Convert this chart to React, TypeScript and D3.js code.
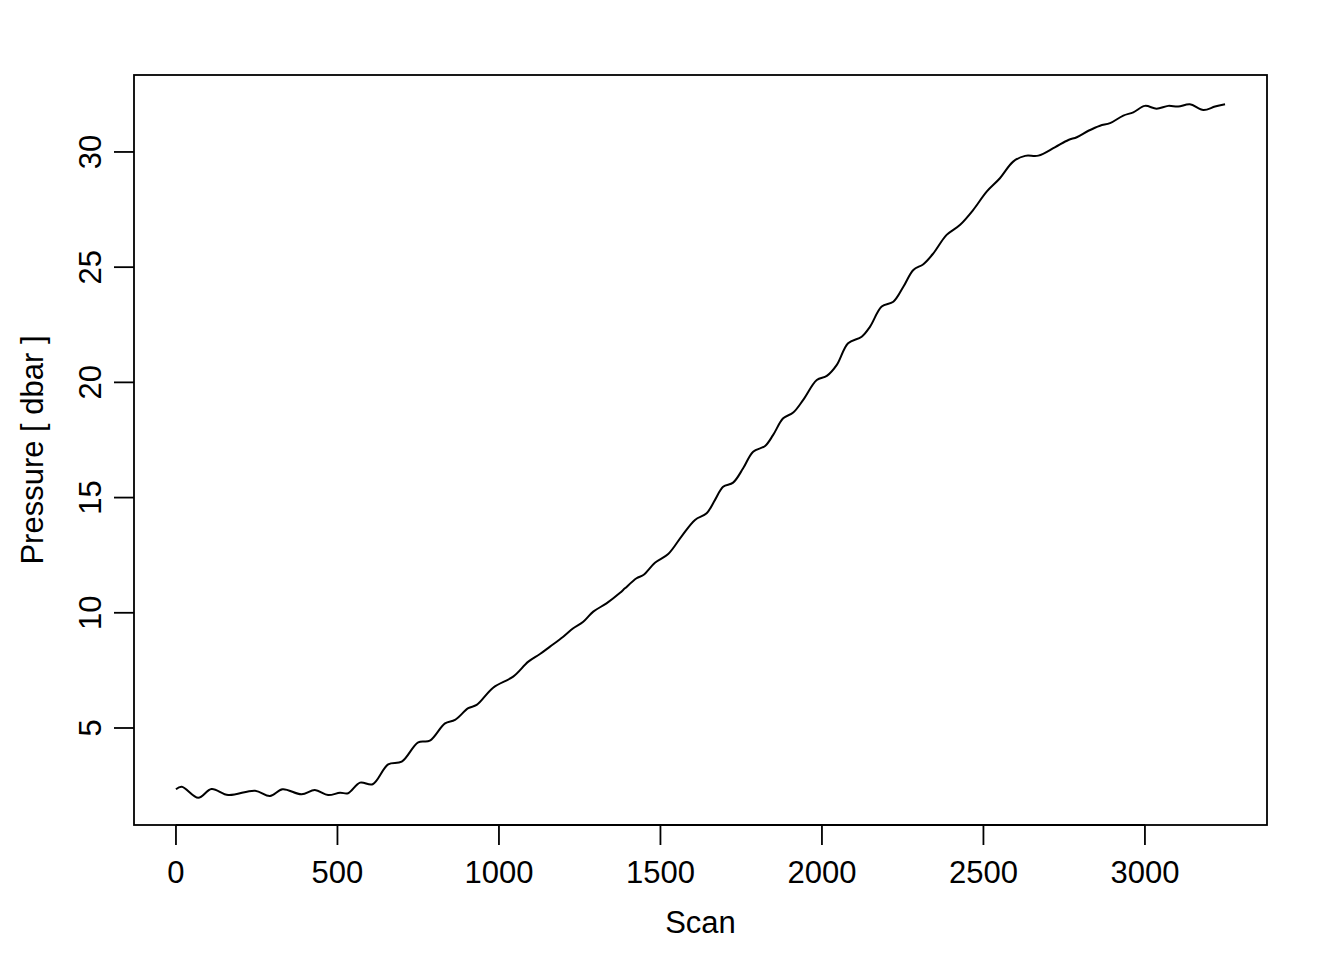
import React from "react";
import * as d3 from "d3";

const scan = [0, 18, 69, 110, 162, 245, 291, 330, 389, 430, 471, 508, 533, 570, 609, 657, 699, 750, 786, 833, 864, 905, 931, 982, 1044, 1091, 1127, 1158, 1199, 1230, 1261, 1292, 1333, 1375, 1390, 1426, 1447, 1483, 1524, 1566, 1607, 1643, 1669, 1694, 1725, 1756, 1787, 1824, 1849, 1880, 1911, 1942, 1984, 2015, 2046, 2081, 2123, 2149, 2185, 2221, 2252, 2283, 2314, 2345, 2386, 2427, 2468, 2510, 2551, 2592, 2629, 2670, 2721, 2763, 2789, 2825, 2861, 2892, 2933, 2964, 3000, 3036, 3072, 3103, 3139, 3181, 3217, 3248];
const pressure = [2.34, 2.45, 1.97, 2.35, 2.09, 2.28, 2.05, 2.34, 2.12, 2.31, 2.09, 2.19, 2.17, 2.63, 2.56, 3.42, 3.54, 4.38, 4.45, 5.2, 5.35, 5.86, 6.0, 6.75, 7.23, 7.88, 8.21, 8.53, 8.96, 9.33, 9.61, 10.05, 10.41, 10.87, 11.06, 11.5, 11.64, 12.17, 12.55, 13.33, 14.03, 14.32, 14.9, 15.47, 15.65, 16.27, 16.99, 17.24, 17.72, 18.44, 18.69, 19.24, 20.1, 20.28, 20.76, 21.7, 21.98, 22.42, 23.29, 23.5, 24.15, 24.88, 25.13, 25.6, 26.4, 26.83, 27.48, 28.28, 28.86, 29.58, 29.83, 29.84, 30.2, 30.52, 30.64, 30.92, 31.14, 31.25, 31.58, 31.72, 32.0, 31.88, 32.0, 31.97, 32.07, 31.82, 31.97, 32.07];

const xTicks = [0, 500, 1000, 1500, 2000, 2500, 3000];
const yTicks = [5, 10, 15, 20, 25, 30];
const xLabel = "Scan";
const yLabel = "Pressure [ dbar ]";

const W = 1344;
const H = 960;
const left = 134, right = 1267, top = 75, bottom = 825;
const FONT = "'Liberation Sans', Arial, Helvetica, sans-serif";
const FS = 31;

export default function App() {
  const xs = d3.extent(scan) as [number, number];
  const xp = (xs[1] - xs[0]) * 0.04;
  const x = d3.scaleLinear().domain([xs[0] - xp, xs[1] + xp]).range([left, right]);
  const y = d3.scaleLinear().domain([0.79, 33.34]).range([bottom, top]);
  const pts: [number, number][] = scan.map((s, i) => [s, pressure[i]]);
  const line = d3
    .line<[number, number]>()
    .x((d) => x(d[0]))
    .y((d) => y(d[1]))
    .curve(d3.curveCatmullRom.alpha(0.5));
  const tl = 20;
  return (
    <svg
      width={W}
      height={H}
      style={{ position: "absolute", left: 0, top: 0, background: "#fff" }}
      fontFamily={FONT}
    >
      <rect x={0} y={0} width={W} height={H} fill="#fff" />
      <path d={line(pts) || ""} fill="none" stroke="#000" strokeWidth={2} strokeLinejoin="round" />
      <rect x={left} y={top} width={right - left} height={bottom - top} fill="none" stroke="#000" strokeWidth={1.8} />
      <line x1={x(xTicks[0])} x2={x(xTicks[xTicks.length - 1])} y1={bottom} y2={bottom} stroke="#000" strokeWidth={1.8} />
      {xTicks.map((t) => (
        <g key={"x" + t}>
          <line x1={x(t)} x2={x(t)} y1={bottom} y2={bottom + tl} stroke="#000" strokeWidth={1.8} />
          <text x={x(t)} y={883} textAnchor="middle" fontSize={FS} fill="#000">
            {t}
          </text>
        </g>
      ))}
      {yTicks.map((t) => (
        <g key={"y" + t}>
          <line x1={left} x2={left - tl} y1={y(t)} y2={y(t)} stroke="#000" strokeWidth={1.8} />
          <text
            transform={`translate(101,${y(t)}) rotate(-90)`}
            textAnchor="middle"
            fontSize={FS}
            fill="#000"
          >
            {t}
          </text>
        </g>
      ))}
      <text x={(left + right) / 2} y={933} textAnchor="middle" fontSize={FS} fill="#000">
        {xLabel}
      </text>
      <text
        transform={`translate(43,${(top + bottom) / 2}) rotate(-90)`}
        textAnchor="middle"
        fontSize={FS}
        fill="#000"
      >
        {yLabel}
      </text>
    </svg>
  );
}
